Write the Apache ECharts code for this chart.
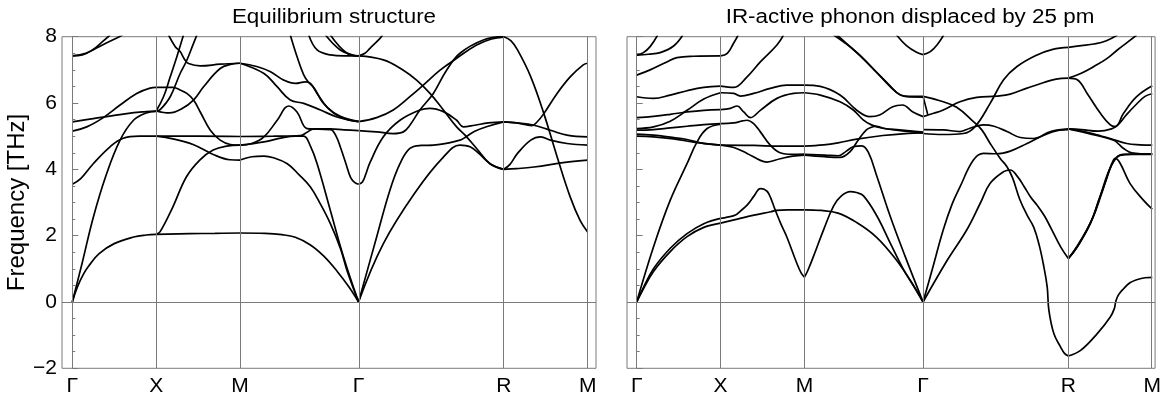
<!DOCTYPE html>
<html>
<head>
<meta charset="utf-8">
<script src="https://cdn.jsdelivr.net/npm/echarts@6/dist/echarts.min.js"></script>
<style>
html,body{margin:0;padding:0;background:#fff;}
#chart{width:1164px;height:401px;}
</style>
</head>
<body>
<div id="chart"></div>
<script>
// high-symmetry points (path distance) and labels
const kpoints = [0, 0.5, 1.0, 1.7071, 2.5731, 3.0731];
const klabels = ['Γ', 'X', 'M', 'Γ', 'R', 'M'];
const yMin = -2, yMax = 8, yStep = 2;
const titles = ['Equilibrium structure', 'IR-active phonon displaced by 25 pm'];
const yName = 'Frequency [THz]';

// ---------- Equilibrium structure: bands per path segment, [k, THz] ----------
const eqGX = [
  [[0,0],[0.03,0.45],[0.069,0.86],[0.1,1.1],[0.16,1.46],[0.25,1.76],[0.366,1.96],[0.44,2.02],[0.5,2.04]],
  [[0,0],[0.06,1.2],[0.125,2.55],[0.2,3.8],[0.285,4.88],[0.365,5.48],[0.44,5.7],[0.5,5.75]],
  [[0,3.55],[0.05,3.72],[0.125,4.17],[0.225,4.68],[0.3,4.93],[0.4,5.0],[0.5,5.0]],
  [[0,5.15],[0.086,5.28],[0.185,5.56],[0.285,5.94],[0.384,6.29],[0.464,6.45],[0.5,6.47]],
  [[0,5.43],[0.125,5.53],[0.325,5.68],[0.44,5.74],[0.5,5.76]],
  [[0,7.42],[0.06,7.45],[0.12,7.6],[0.18,7.85],[0.225,8.05]],
  [[0,7.42],[0.08,7.5],[0.16,7.7],[0.24,7.9],[0.3,8.05]]
];
const eqXM = [
  [[0.5,2.04],[0.7,2.06],[0.85,2.07],[1.0,2.08]],
  [[0.5,2.04],[0.524,2.12],[0.6,2.87],[0.68,3.77],[0.76,4.28],[0.84,4.58],[0.92,4.70],[1.0,4.73]],
  [[0.5,5.0],[0.75,5.0],[1.0,4.99]],
  [[0.5,5.0],[0.6,4.92],[0.72,4.75],[0.84,4.45],[0.94,4.29],[1.0,4.28]],
  [[0.5,5.76],[0.58,5.70],[0.65,5.82],[0.723,6.09],[0.783,6.49],[0.882,7.04],[0.95,7.17],[1.0,7.2]],
  [[0.5,6.47],[0.6,6.47],[0.64,6.40],[0.683,6.29],[0.723,6.09],[0.763,5.73],[0.823,5.18],[0.882,4.88],[0.942,4.75],[1.0,4.73]],
  [[0.5,5.76],[0.544,6.19],[0.584,6.79],[0.623,7.39],[0.663,8.05]],
  [[0.5,5.75],[0.524,5.8],[0.584,6.19],[0.643,6.89],[0.683,7.29],[0.723,7.8],[0.743,8.05]],
  [[0.574,8.05],[0.614,7.70],[0.643,7.55],[0.673,7.29],[0.693,7.19],[0.763,7.12],[0.882,7.17],[1.0,7.2]]
];
const eqMG = [
  [[1.0,2.08],[1.15,2.07],[1.25,2.03],[1.33,1.95],[1.42,1.72],[1.5,1.38],[1.58,0.92],[1.65,0.45],[1.7071,0]],
  [[1.0,4.28],[1.07,4.38],[1.143,4.40],[1.2,4.35],[1.282,4.17],[1.35,3.85],[1.42,3.47],[1.48,2.95],[1.539,2.36],[1.6,1.6],[1.638,0.95],[1.7071,0]],
  [[1.0,4.73],[1.143,4.83],[1.25,4.95],[1.33,5.0],[1.38,5.0],[1.42,4.7],[1.46,4.17],[1.539,2.76],[1.618,1.35],[1.7071,0]],
  [[1.0,4.99],[1.2,5.0],[1.36,5.02],[1.40,5.12],[1.44,5.22],[1.54,5.22],[1.62,5.19],[1.7071,5.17]],
  [[1.0,4.73],[1.07,4.78],[1.143,4.98],[1.222,5.48],[1.29,5.91],[1.34,5.73],[1.40,5.23],[1.47,5.21],[1.54,5.2],[1.575,4.98],[1.6,4.65],[1.63,4.2],[1.66,3.75],[1.685,3.6],[1.7071,3.55]],
  [[1.0,7.2],[1.1,7.1],[1.182,6.94],[1.261,6.69],[1.331,6.59],[1.39,6.64],[1.42,6.59],[1.46,6.29],[1.519,5.88],[1.598,5.60],[1.7071,5.45]],
  [[1.30,8.05],[1.34,7.4],[1.38,6.85],[1.41,6.62],[1.444,6.44],[1.49,6.04],[1.56,5.69],[1.64,5.50],[1.7071,5.44]],
  [[1.0,7.2],[1.143,6.89],[1.22,6.5],[1.30,6.09],[1.38,5.99],[1.48,5.79],[1.578,5.58],[1.7071,5.44]],
  [[1.41,8.05],[1.46,7.6],[1.54,7.45],[1.62,7.42],[1.7071,7.42]],
  [[1.51,8.05],[1.598,7.6],[1.678,7.44],[1.7071,7.42]],
  [[1.539,8.05],[1.638,7.5],[1.7071,7.42]]
];
const eqGR = [
  [[1.7071,0],[1.815,1.96],[1.894,3.37],[1.954,4.17],[2.013,4.63],[2.08,4.72],[2.153,4.73],[2.312,4.88],[2.342,4.96],[2.40,5.15],[2.48,5.3],[2.5731,5.43]],
  [[1.7071,0],[1.855,1.76],[2.054,3.37],[2.213,4.37],[2.312,4.73],[2.372,4.68],[2.431,4.45],[2.491,4.17],[2.5731,4.0]],
  [[1.7071,3.55],[1.73,3.62],[1.75,3.85],[1.775,4.2],[1.855,4.98],[1.954,5.48],[2.073,5.79],[2.133,5.84],[2.213,5.74],[2.292,5.48],[2.332,5.28],[2.40,5.33],[2.48,5.4],[2.5731,5.43]],
  [[1.7071,5.17],[1.815,5.13],[1.914,5.08],[1.974,5.13],[2.013,5.33],[2.073,5.79],[2.153,6.29],[2.232,6.99],[2.312,7.50],[2.451,7.90],[2.5731,8.0]],
  [[1.7071,5.44],[1.815,5.56],[1.914,5.79],[2.013,6.19],[2.093,6.54],[2.193,6.99],[2.292,7.35],[2.411,7.75],[2.5,7.93],[2.5731,7.99]],
  [[1.7071,7.42],[1.855,7.30],[1.974,6.99],[2.053,6.69],[2.133,6.29],[2.213,5.79],[2.292,5.28],[2.342,5.03],[2.411,4.63],[2.491,4.17],[2.5731,4.0]],
  [[1.7071,7.42],[1.745,7.5],[1.775,7.65],[1.835,7.95],[1.85,8.05]]
];
const eqRM = [
  [[2.5731,8.0],[2.615,7.88],[2.655,7.60],[2.734,6.79],[2.812,5.68],[2.891,4.38],[2.969,3.17],[3.028,2.46],[3.0731,2.11]],
  [[2.5731,5.43],[2.65,5.4],[2.753,5.33],[2.851,5.18],[2.95,5.03],[3.0731,4.98]],
  [[2.5731,5.43],[2.65,5.4],[2.74,5.32],[2.77,5.42],[2.812,5.68],[2.891,6.29],[2.969,6.79],[3.047,7.15],[3.0731,7.2]],
  [[2.5731,4.0],[2.61,4.15],[2.655,4.48],[2.734,4.88],[2.793,4.98],[2.851,4.88],[2.95,4.78],[3.0731,4.73]],
  [[2.5731,4.0],[2.65,4.02],[2.753,4.07],[2.95,4.22],[3.0731,4.28]]
];

// ---------- IR-active phonon displaced by 25 pm ----------
const irGX = [
  [[0,0],[0.03,0.33],[0.1,1.0],[0.2,1.62],[0.3,2.06],[0.4,2.36],[0.5,2.52]],
  [[0,0],[0.03,0.3],[0.1,0.92],[0.2,1.52],[0.3,1.97],[0.4,2.25],[0.5,2.38]],
  [[0,0],[0.1,1.66],[0.2,3.07],[0.3,4.17],[0.36,4.83],[0.42,5.23],[0.5,5.36]],
  [[0,5.06],[0.1,5.03],[0.2,4.97],[0.3,4.9],[0.38,4.8],[0.5,4.73]],
  [[0,5.0],[0.1,4.98],[0.22,4.92],[0.34,4.82],[0.5,4.73]],
  [[0,5.18],[0.1,5.2],[0.2,5.25],[0.3,5.3],[0.4,5.35],[0.5,5.38]],
  [[0,5.23],[0.1,5.28],[0.2,5.45],[0.3,5.78],[0.4,6.12],[0.5,6.31]],
  [[0,5.56],[0.1,5.6],[0.2,5.66],[0.3,5.73],[0.4,5.78],[0.5,5.8]],
  [[0,6.19],[0.1,6.14],[0.2,6.24],[0.3,6.37],[0.4,6.47],[0.5,6.51]],
  [[0,6.84],[0.08,7.0],[0.18,7.24],[0.24,7.37],[0.34,7.41],[0.5,7.42]],
  [[0,7.44],[0.04,7.52],[0.08,7.7],[0.125,8.05]],
  [[0,7.44],[0.07,7.47],[0.14,7.52],[0.22,7.72],[0.275,8.05]]
];
const irXM = [
  [[0.5,2.52],[0.54,2.56],[0.589,2.62],[0.62,2.75],[0.658,2.92],[0.7,3.2],[0.737,3.42],[0.76,3.4],[0.787,3.27],[0.826,2.77],[0.86,2.35],[0.895,1.96],[0.955,1.16],[0.98,0.88],[1.0,0.75]],
  [[0.5,2.38],[0.6,2.5],[0.7,2.62],[0.8,2.72],[0.83,2.76],[0.9,2.78],[1.0,2.78]],
  [[0.5,4.73],[0.7,4.72],[0.85,4.7],[1.0,4.7]],
  [[0.5,4.73],[0.579,4.66],[0.658,4.48],[0.737,4.27],[0.776,4.22],[0.855,4.32],[0.93,4.4],[1.0,4.43]],
  [[0.5,5.38],[0.579,5.40],[0.63,5.46],[0.658,5.48],[0.697,5.38],[0.737,5.13],[0.796,4.73],[0.855,4.5],[0.93,4.45],[1.0,4.46]],
  [[0.5,5.8],[0.559,5.84],[0.599,5.91],[0.638,5.73],[0.678,5.56],[0.737,5.78],[0.836,6.14],[0.935,6.29],[1.0,6.31]],
  [[0.5,6.31],[0.579,6.29],[0.618,6.21],[0.697,6.29],[0.796,6.44],[0.895,6.54],[1.0,6.54]],
  [[0.5,6.51],[0.579,6.47],[0.658,6.79],[0.737,7.24],[0.836,7.75],[0.875,8.05]],
  [[0.5,7.42],[0.54,7.5],[0.575,7.78],[0.605,8.05]]
];
const irMG = [
  [[1.0,0.75],[1.02,0.95],[1.055,1.39],[1.115,2.19],[1.174,2.90],[1.22,3.2],[1.273,3.33],[1.31,3.3],[1.352,3.2],[1.431,2.6],[1.51,1.79],[1.589,0.99],[1.65,0.5],[1.7071,0]],
  [[1.0,2.78],[1.1,2.76],[1.2,2.68],[1.31,2.4],[1.43,1.95],[1.55,1.25],[1.63,0.65],[1.7071,0]],
  [[1.0,4.45],[1.12,4.43],[1.203,4.41],[1.25,4.55],[1.29,4.68],[1.342,4.71],[1.381,4.51],[1.431,3.80],[1.51,2.60],[1.599,1.39],[1.7071,0]],
  [[1.0,4.43],[1.12,4.38],[1.212,4.36],[1.271,4.53],[1.32,4.88],[1.369,5.19],[1.399,5.27],[1.43,5.3],[1.47,5.24],[1.55,5.18],[1.7071,5.1]],
  [[1.0,4.7],[1.115,4.74],[1.2,4.8],[1.312,4.91],[1.467,5.02],[1.6,5.08],[1.7071,5.1]],
  [[1.0,6.54],[1.094,6.50],[1.212,6.24],[1.31,5.79],[1.389,5.59],[1.448,5.64],[1.526,5.89],[1.585,5.94],[1.644,5.74],[1.7071,5.59]],
  [[1.0,6.31],[1.094,6.24],[1.212,6.04],[1.291,5.79],[1.35,5.49],[1.399,5.34],[1.467,5.24],[1.566,5.19],[1.7071,5.12]],
  [[1.174,8.05],[1.312,7.53],[1.431,6.92],[1.51,6.52],[1.569,6.25],[1.64,6.2],[1.7071,6.2]],
  [[1.194,8.05],[1.332,7.42],[1.45,6.82],[1.549,6.32],[1.608,6.19],[1.7071,6.18]],
  [[1.549,8.05],[1.608,7.73],[1.668,7.53],[1.7071,7.46]]
];
const irGR = [
  [[1.7071,7.46],[1.75,7.55],[1.79,7.75],[1.83,8.05]],
  [[1.7071,6.2],[1.735,5.65]],
  [[1.7071,5.59],[1.77,5.69],[1.827,5.79],[1.927,6.04],[2.027,6.17],[2.147,6.21],[2.227,6.27],[2.327,6.45],[2.427,6.62],[2.5,6.72],[2.5731,6.75]],
  [[1.7071,6.2],[1.807,6.07],[1.907,5.87],[2.007,5.44],[2.057,5.19],[2.107,4.78],[2.167,4.33],[2.207,4.08],[2.24,3.75],[2.283,3.1],[2.327,2.62],[2.367,2.25],[2.40,1.7],[2.427,1.06],[2.447,0.45],[2.457,-0.25],[2.487,-0.96],[2.527,-1.36],[2.55,-1.55],[2.5731,-1.63]],
  [[1.7071,0],[1.76,0.95],[1.827,2.17],[1.88,2.95],[1.927,3.47],[2.007,4.28],[2.067,4.48],[2.147,4.47],[2.227,4.55],[2.327,4.78],[2.427,5.03],[2.52,5.18],[2.5731,5.2]],
  [[1.7071,0],[1.85,1.25],[1.967,2.17],[2.05,3.0],[2.107,3.58],[2.187,3.93],[2.227,3.98],[2.27,3.78],[2.307,3.5],[2.35,3.15],[2.387,2.92],[2.43,2.6],[2.467,2.25],[2.527,1.66],[2.5731,1.31]],
  [[1.7071,5.2],[1.827,5.19],[1.927,5.14],[1.987,5.24],[2.067,5.34],[2.13,5.3],[2.207,5.14],[2.287,4.96],[2.367,4.93],[2.467,5.14],[2.5731,5.22]],
  [[1.7071,5.08],[1.827,5.05],[1.947,5.08],[2.017,5.29],[2.107,5.99],[2.187,6.70],[2.267,7.10],[2.387,7.45],[2.48,7.62],[2.5731,7.68]]
];
const irRM = [
  [[2.5731,-1.63],[2.646,-1.46],[2.744,-0.96],[2.823,-0.45],[2.847,-0.2],[2.855,0.0],[2.87,0.2],[2.902,0.40],[2.94,0.58],[2.98,0.67],[3.03,0.73],[3.0731,0.74]],
  [[2.5731,1.31],[2.626,1.66],[2.705,2.37],[2.754,3.07],[2.80,3.7],[2.83,4.15],[2.853,4.33],[2.88,4.2],[2.941,3.57],[3.02,3.07],[3.0731,2.8]],
  [[2.5731,1.31],[2.63,1.72],[2.71,2.45],[2.76,3.15],[2.81,3.9],[2.85,4.3],[2.88,4.42],[2.95,4.45],[3.0731,4.45]],
  [[2.5731,1.31],[2.64,1.78],[2.72,2.55],[2.77,3.25],[2.82,4.0],[2.86,4.35],[2.9,4.45],[3.0,4.46],[3.0731,4.47]],
  [[2.5731,5.22],[2.666,5.14],[2.75,5.03],[2.823,4.93],[2.921,4.78],[3.0,4.74],[3.0731,4.73]],
  [[2.5731,5.22],[2.685,5.09],[2.843,4.88],[2.875,4.75],[2.902,4.63],[2.95,4.5],[3.0731,4.46]],
  [[2.5731,5.22],[2.65,5.2],[2.75,5.15],[2.83,5.22],[2.87,5.35],[2.92,5.65],[2.98,5.97],[3.03,6.2],[3.0731,6.28]],
  [[2.5731,6.75],[2.626,6.70],[2.685,6.29],[2.764,5.69],[2.823,5.34],[2.853,5.29],[2.902,5.69],[2.98,6.19],[3.0731,6.52]],
  [[2.5731,6.75],[2.65,6.9],[2.725,7.1],[2.8,7.33],[2.865,7.6],[2.93,7.85],[2.98,8.05]],
  [[2.5731,7.68],[2.65,7.73],[2.725,7.78],[2.8,7.88],[2.865,8.05]]
];

const eqBands = [].concat(eqGX, eqXM, eqMG, eqGR, eqRM);
const irBands = [].concat(irGX, irXM, irMG, irGR, irRM);

const FONT = '"Liberation Sans", Arial, Helvetica, sans-serif';
const gridTop = 36.7, gridH = 331.6;

function kLabel(v) {
  for (let i = 0; i < kpoints.length; i++) if (Math.abs(kpoints[i] - v) < 1e-3) return klabels[i];
  return '';
}
function yLabel(v) { return v < 0 ? '\u2212' + Math.abs(v) : String(v); }

function bandSeries(bands, idx) {
  return bands.map(b => ({
    type: 'line', xAxisIndex: idx, yAxisIndex: idx, data: b,
    smooth: 0.4, symbol: 'none', showSymbol: false,
    lineStyle: { color: '#000', width: 1.7 }, silent: true, z: 3, animation: false
  }));
}
function guideSeries(idx) {
  return {
    type: 'line', xAxisIndex: idx, yAxisIndex: idx, data: [[0, 0], [0, 0]],
    symbol: 'none', lineStyle: { width: 0, opacity: 0 }, silent: true, z: 1, animation: false,
    markLine: {
      silent: true, symbol: ['none', 'none'], label: { show: false }, animation: false,
      lineStyle: { color: '#7a7a7a', width: 1, type: 'solid' },
      emphasis: { disabled: true },
      data: kpoints.map(v => ({ xAxis: v })).concat([{ yAxis: 0 }])
    }
  };
}
function xAx(idx, min, max) {
  return {
    type: 'value', gridIndex: idx, min: min, max: max,
    axisLine: { show: false }, axisTick: { show: false }, splitLine: { show: false },
    axisLabel: { customValues: kpoints, formatter: kLabel, fontSize: 21, color: '#000', margin: 7, fontFamily: FONT }
  };
}
function yAx(idx, showLabel) {
  const a = {
    type: 'value', gridIndex: idx, min: yMin, max: yMax, interval: yStep,
    axisLine: { show: false },
    axisTick: { show: true, inside: true, length: 6, lineStyle: { color: '#7a7a7a', width: 1 } },
    minorTick: { show: true, splitNumber: 4, length: 3, lineStyle: { color: '#7a7a7a', width: 1 } },
    splitLine: { show: false }, minorSplitLine: { show: false },
    axisLabel: { show: showLabel, formatter: yLabel, fontSize: 21, color: '#000', margin: 5, fontFamily: FONT }
  };
  if (showLabel) {
    a.name = yName; a.nameLocation = 'middle'; a.nameGap = 25;
    a.nameTextStyle = { fontSize: 24, color: '#000', fontFamily: FONT };
  }
  return a;
}

const chart = echarts.init(document.getElementById('chart'), null, { renderer: 'canvas' });
chart.setOption({
  animation: false,
  backgroundColor: '#fff',
  grid: [
    { left: 62, top: gridTop, width: 534, height: gridH, show: true, borderColor: '#7a7a7a', borderWidth: 1, backgroundColor: 'transparent' },
    { left: 627, top: gridTop, width: 528.5, height: gridH, show: true, borderColor: '#7a7a7a', borderWidth: 1, backgroundColor: 'transparent' }
  ],
  xAxis: [xAx(0, -0.0614, 3.123), xAx(1, -0.0578, 3.090)],
  yAxis: [yAx(0, true), yAx(1, false)],
  graphic: [
    { type: 'text', x: 334, y: 17, scaleX: 1.12, style: { text: titles[0], textAlign: 'center', textVerticalAlign: 'middle', font: '20px ' + FONT, fill: '#000' } },
    { type: 'text', x: 910, y: 17, scaleX: 1.12, style: { text: titles[1], textAlign: 'center', textVerticalAlign: 'middle', font: '20px ' + FONT, fill: '#000' } }
  ],
  series: [guideSeries(0), guideSeries(1)].concat(bandSeries(eqBands, 0), bandSeries(irBands, 1))
});
</script>
</body>
</html>
